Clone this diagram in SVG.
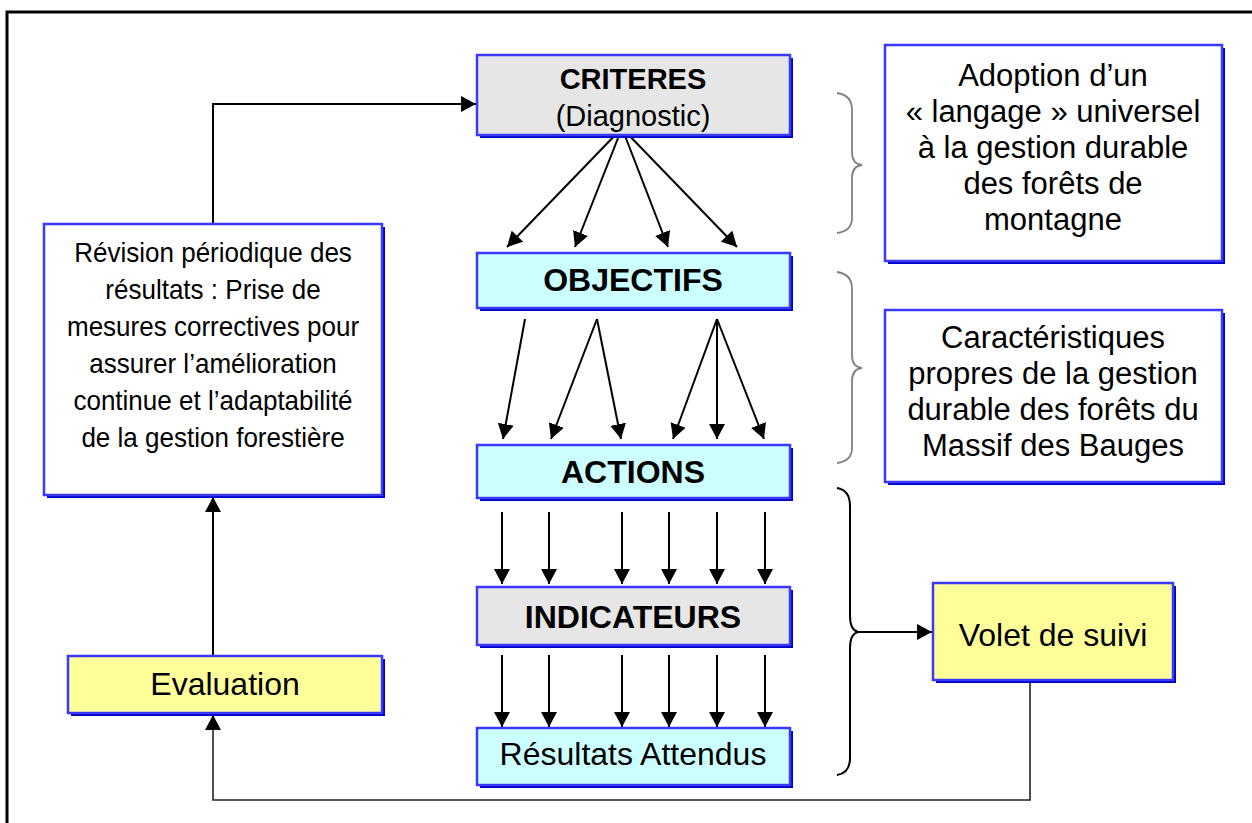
<svg xmlns="http://www.w3.org/2000/svg" width="1252" height="823" viewBox="0 0 1252 823">
<defs>
<marker id="ah" markerUnits="userSpaceOnUse" markerWidth="16" markerHeight="16" refX="15" refY="8" orient="auto">
<path d="M0,0 L15,8 L0,16 z" fill="#000"/>
</marker>
</defs>
<style>
.shadow{fill:#0000c8}
.box{stroke:#3a3aff;stroke-width:2.5}
.gray{fill:#e6e6e6}
.cyan{fill:#ccffff}
.yellow{fill:#ffff99}
.white{fill:#ffffff}
text{font-family:"Liberation Sans",Arial,sans-serif;fill:#000;text-anchor:middle}
.b{font-weight:bold;font-size:32px}
.r{font-size:32px}
.rr{font-size:31px}
.c{stroke:#000;stroke-width:2;fill:none}
.brace{stroke:#808080;stroke-width:1.8;fill:none}
.braceb{stroke:#000;stroke-width:2;fill:none}
</style>
<rect width="1252" height="823" fill="#fff"/>
<path d="M7,823 V12 H1252" fill="none" stroke="#000" stroke-width="3"/>

<g id="connectors">
<line class="c" x1="622" y1="128" x2="507" y2="247" marker-end="url(#ah)"/>
<line class="c" x1="622" y1="128" x2="575" y2="247" marker-end="url(#ah)"/>
<line class="c" x1="622" y1="128" x2="668" y2="247" marker-end="url(#ah)"/>
<line class="c" x1="622" y1="128" x2="737" y2="247" marker-end="url(#ah)"/>
<line class="c" x1="525" y1="319" x2="503" y2="439" marker-end="url(#ah)"/>
<line class="c" x1="597" y1="319" x2="551" y2="439" marker-end="url(#ah)"/>
<line class="c" x1="597" y1="319" x2="621" y2="439" marker-end="url(#ah)"/>
<line class="c" x1="717" y1="319" x2="673" y2="439" marker-end="url(#ah)"/>
<line class="c" x1="717" y1="319" x2="717" y2="439" marker-end="url(#ah)"/>
<line class="c" x1="717" y1="319" x2="764" y2="439" marker-end="url(#ah)"/>
<line class="c" x1="502" y1="512" x2="502" y2="584" marker-end="url(#ah)"/>
<line class="c" x1="549" y1="512" x2="549" y2="584" marker-end="url(#ah)"/>
<line class="c" x1="622" y1="512" x2="622" y2="584" marker-end="url(#ah)"/>
<line class="c" x1="669" y1="512" x2="669" y2="584" marker-end="url(#ah)"/>
<line class="c" x1="717" y1="512" x2="717" y2="584" marker-end="url(#ah)"/>
<line class="c" x1="765" y1="512" x2="765" y2="584" marker-end="url(#ah)"/>
<line class="c" x1="502" y1="655" x2="502" y2="727" marker-end="url(#ah)"/>
<line class="c" x1="549" y1="655" x2="549" y2="727" marker-end="url(#ah)"/>
<line class="c" x1="622" y1="655" x2="622" y2="727" marker-end="url(#ah)"/>
<line class="c" x1="669" y1="655" x2="669" y2="727" marker-end="url(#ah)"/>
<line class="c" x1="717" y1="655" x2="717" y2="727" marker-end="url(#ah)"/>
<line class="c" x1="765" y1="655" x2="765" y2="727" marker-end="url(#ah)"/>
<polyline class="c" points="213,224 213,104 476,104" marker-end="url(#ah)"/>
<line class="c" x1="213" y1="656" x2="213" y2="497" marker-end="url(#ah)"/>
<polyline class="c" points="1030,681 1030,800 213,800 213,715" marker-end="url(#ah)" style="stroke:#222;stroke-width:1.6"/>
<line class="c" x1="858" y1="632" x2="932" y2="632" marker-end="url(#ah)"/>
<path class="brace" d="M837,93 Q852,95 852,110 V152 Q852,164 862,165 Q852,166 852,178 V218 Q852,231 837,233"/>
<path class="brace" d="M837,272 Q852,274 852,289 V355 Q852,367 862,368 Q852,369 852,381 V448 Q852,461 837,463"/>
<path class="braceb" d="M837,488 Q850,490 850,506 V616 Q850,630 858,632 Q850,634 850,648 V758 Q850,773 837,775"/>
</g>

<g id="criteres">
<rect class="shadow" x="480" y="58" width="313" height="80"/>
<rect class="box gray" x="477" y="55" width="313" height="80"/>
<text class="b" x="633" y="89" style="font-size:29px">CRITERES</text>
<text x="633" y="126" style="font-size:29px">(Diagnostic)</text>
</g>
<g id="objectifs">
<rect class="shadow" x="480" y="256" width="313" height="55"/>
<rect class="box cyan" x="477" y="253" width="313" height="55"/>
<text class="b" x="633" y="291">OBJECTIFS</text>
</g>
<g id="actions">
<rect class="shadow" x="480" y="448" width="313" height="53"/>
<rect class="box cyan" x="477" y="445" width="313" height="53"/>
<text class="b" x="633" y="483">ACTIONS</text>
</g>
<g id="indicateurs">
<rect class="shadow" x="480" y="590" width="313" height="58"/>
<rect class="box gray" x="477" y="587" width="313" height="58"/>
<text class="b" x="633" y="628">INDICATEURS</text>
</g>
<g id="resultats">
<rect class="shadow" x="480" y="731" width="313" height="57"/>
<rect class="box cyan" x="477" y="728" width="313" height="57"/>
<text class="r" x="633" y="765">Résultats Attendus</text>
</g>
<g id="adoption">
<rect class="shadow" x="888" y="48" width="337" height="216"/>
<rect class="box white" x="885" y="45" width="337" height="216"/>
<text class="rr" x="1053" y="86">Adoption d’un</text>
<text class="rr" x="1053" y="122">« langage » universel</text>
<text class="rr" x="1053" y="158">à la gestion durable</text>
<text class="rr" x="1053" y="194">des forêts de</text>
<text class="rr" x="1053" y="230">montagne</text>
</g>
<g id="caracteristiques">
<rect class="shadow" x="888" y="313" width="337" height="172"/>
<rect class="box white" x="885" y="310" width="337" height="172"/>
<text class="rr" x="1053" y="348">Caractéristiques</text>
<text class="rr" x="1053" y="384">propres de la gestion</text>
<text class="rr" x="1053" y="420">durable des forêts du</text>
<text class="rr" x="1053" y="456">Massif des Bauges</text>
</g>
<g id="volet">
<rect class="shadow" x="936" y="586" width="240" height="97"/>
<rect class="box yellow" x="933" y="583" width="240" height="97"/>
<text class="r" x="1053" y="646">Volet de suivi</text>
</g>
<g id="revision">
<rect class="shadow" x="47" y="227" width="338" height="271"/>
<rect class="box white" x="44" y="224" width="338" height="271"/>
<g transform="translate(213,0) scale(0.93,1)" style="font-size:28px">
<text x="0" y="262">Révision périodique des</text>
<text x="0" y="299">résultats : Prise de</text>
<text x="0" y="336">mesures correctives pour</text>
<text x="0" y="373">assurer l’amélioration</text>
<text x="0" y="410">continue et l’adaptabilité</text>
<text x="0" y="447">de la gestion forestière</text>
</g>
</g>
<g id="evaluation">
<rect class="shadow" x="71" y="659" width="314" height="57"/>
<rect class="box yellow" x="68" y="656" width="314" height="57"/>
<text class="r" x="225" y="695">Evaluation</text>
</g>
</svg>
